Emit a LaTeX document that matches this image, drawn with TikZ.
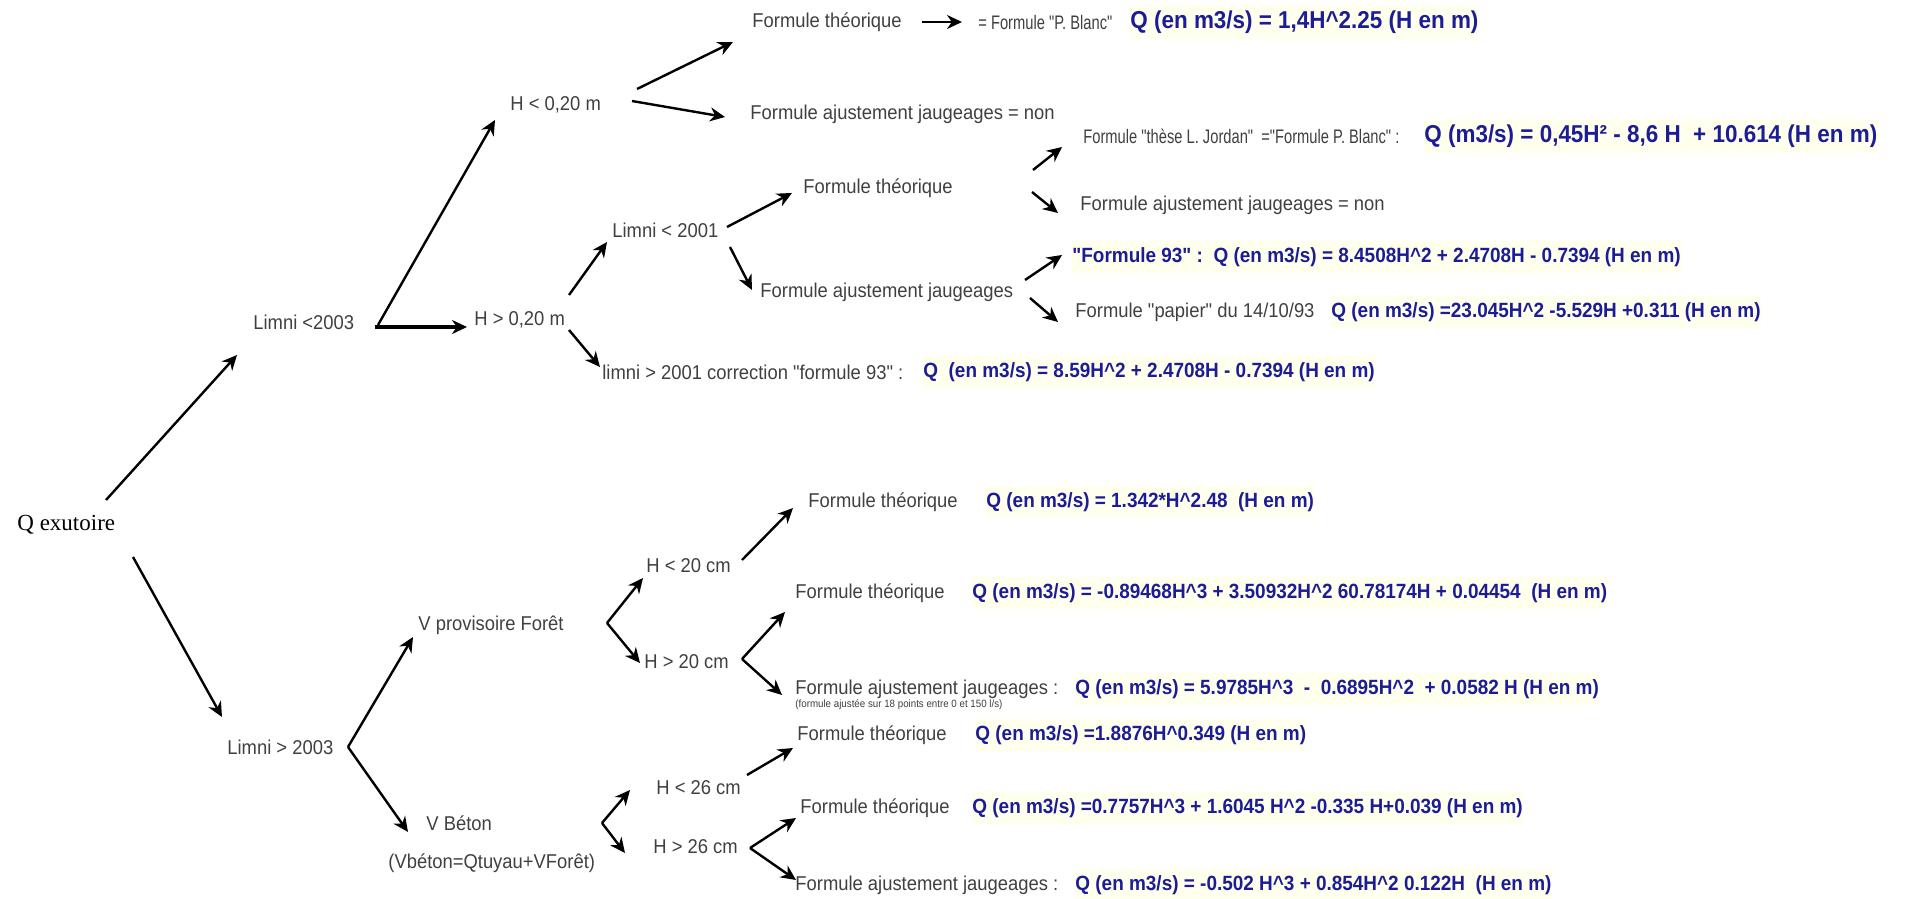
\documentclass[tikz,border=0pt]{standalone}
\usepackage{fontspec}
\usetikzlibrary{arrows.meta}
\newfontfamily\lblfont{Liberation Sans}[FakeStretch=0.92]
\newfontfamily\narrowfont{Liberation Sans}[FakeStretch=0.75]
\newfontfamily\rootfont{Liberation Serif}
\definecolor{txtgray}{RGB}{64,64,64}
\definecolor{frmblue}{RGB}{28,28,150}
\definecolor{hl}{RGB}{255,255,238}
\newcommand\pwr{\textasciicircum}
\begin{document}
\begin{tikzpicture}[x=0.5pt,y=-0.5pt,
  lbl/.style={anchor=west,inner sep=0pt,text=txtgray,font=\lblfont\fontsize{10}{12}\selectfont},
  lblnarrow/.style={lbl,font=\narrowfont\fontsize{9.8}{12}\selectfont},
  frm/.style={anchor=west,inner xsep=0pt,inner ysep=3pt,fill=hl,text=frmblue,font=\lblfont\bfseries\fontsize{10.3}{12}\selectfont},
  frmbig/.style={frm,font=\lblfont\bfseries\fontsize{12.2}{14}\selectfont},
  note/.style={lbl,font=\lblfont\fontsize{5.3}{6}\selectfont},
  root/.style={anchor=west,inner sep=0pt,font=\rootfont\fontsize{11.5}{13}\selectfont},
  arr/.style={-{Stealth[length=7.5pt,width=7pt]},line width=1.2pt},
  arrbold/.style={arr,line width=1.8pt},
]
\fill[white] (0,0) rectangle (1908,899);
\useasboundingbox (0,0) rectangle (1908,899);

% ---------- root ----------
\node[root] (qex) at (17,525) {Q exutoire};

% ---------- Limni < 2003 ----------
\node[lbl] (l2003) at (253,322) {Limni <2003};
\node[lbl] (h1) at (510,105) {H < 0,20 m};
\node[lbl] (h2) at (474,320) {H > 0,20 m};
\node[lbl] (ft1) at (752,22) {Formule théorique};
\node[lblnarrow] (pb) at (978,22) {= Formule "P. Blanc"};
\node[frmbig] (q1) at (1130,22) {Q (en m3/s) = 1,4H\pwr2.25 (H en m)};
\node[lbl] (fa1) at (750,114) {Formule ajustement jaugeages = non};
\node[lblnarrow] (fj) at (1083,136) {Formule "thèse L. Jordan"\ \ ="Formule P. Blanc" :};
\node[frmbig] (q2) at (1424,136) {Q (m3/s) = 0,45H² - 8,6 H\ \ + 10.614 (H en m)};
\node[lbl] (ft2) at (803,188) {Formule théorique};
\node[lbl] (fa2) at (1080,205) {Formule ajustement jaugeages = non};
\node[lbl] (l2001) at (612,230) {Limni < 2001};
\node[frm] (f93) at (1072,257) {"Formule 93" :\ \ Q (en m3/s) = 8.4508H\pwr2 + 2.4708H - 0.7394 (H en m)};
\node[lbl] (fa3) at (760,292) {Formule ajustement jaugeages};
\node[lbl] (pap) at (1075,312) {Formule "papier" du 14/10/93};
\node[frm] (q4) at (1331,312) {Q (en m3/s) =23.045H\pwr2 -5.529H +0.311 (H en m)};
\node[lbl] (corr) at (602,372) {limni > 2001 correction "formule 93" :};
\node[frm] (q5) at (923,372) {Q\ \ (en m3/s) = 8.59H\pwr2 + 2.4708H - 0.7394 (H en m)};

% ---------- Limni > 2003 ----------
\node[lbl] (lg2003) at (227,747) {Limni > 2003};
\node[lbl] (vp) at (418,625) {V provisoire Forêt};
\node[lbl] (vb) at (426,823) {V Béton};
\node[lbl] (vbq) at (388,863) {(Vbéton=Qtuyau+VForêt)};
\node[lbl] (h20a) at (646,566) {H < 20 cm};
\node[lbl] (h20b) at (644,662) {H > 20 cm};
\node[lbl] (ft4) at (808,502) {Formule théorique};
\node[frm] (q6) at (986,502) {Q (en m3/s) = 1.342*H\pwr2.48\ \ (H en m)};
\node[lbl] (ft5) at (795,593) {Formule théorique};
\node[frm] (q7) at (972,593) {Q (en m3/s) = -0.89468H\pwr3 + 3.50932H\pwr2 60.78174H + 0.04454\ \ (H en m)};
\node[lbl] (fa5) at (795,689) {Formule ajustement jaugeages :};
\node[frm] (q8) at (1075,689) {Q (en m3/s) = 5.9785H\pwr3\ \ -\ \ 0.6895H\pwr2\ \ + 0.0582 H (H en m)};
\node[note] (fa5n) at (795,705) {(formule ajustée sur 18 points entre 0 et 150 l/s)};
\node[lbl] (ft6) at (797,735) {Formule théorique};
\node[frm] (q9) at (975,735) {Q (en m3/s) =1.8876H\pwr0.349 (H en m)};
\node[lbl] (h26a) at (656,788) {H < 26 cm};
\node[lbl] (h26b) at (653,847) {H > 26 cm};
\node[lbl] (ft7) at (800,808) {Formule théorique};
\node[frm] (q10) at (972,808) {Q (en m3/s) =0.7757H\pwr3 + 1.6045 H\pwr2 -0.335 H+0.039 (H en m)};
\node[lbl] (fa7) at (795,885) {Formule ajustement jaugeages :};
\node[frm] (q11) at (1075,885) {Q (en m3/s) = -0.502 H\pwr3 + 0.854H\pwr2 0.122H\ \ (H en m)};

% ---------- arrow end points ----------
\coordinate (qex-up) at (106,500);   \coordinate (l2003-in) at (237,355);
\coordinate (qex-dn) at (133,557);   \coordinate (lg2003-in) at (222,717);
\coordinate (l2003-a) at (378,325);  \coordinate (h1-in) at (495,120);
\coordinate (l2003-b) at (375,327);  \coordinate (h2-in) at (467,327);
\coordinate (h1-a) at (637,89);      \coordinate (ft1-in) at (733,42);
\coordinate (h1-b) at (632,101);     \coordinate (fa1-in) at (725,117);
\coordinate (ft1-out) at (922,22);   \coordinate (pb-in) at (962,22);
\coordinate (h2-a) at (569,295);     \coordinate (l2001-in) at (607,242);
\coordinate (h2-b) at (569,330);     \coordinate (corr-in) at (600,367);
\coordinate (l2001-a) at (727,227);  \coordinate (ft2-in) at (792,193);
\coordinate (l2001-b) at (730,247);  \coordinate (fa3-in) at (752,290);
\coordinate (ft2-a) at (1033,170);   \coordinate (fj-in) at (1062,147);
\coordinate (ft2-b) at (1032,192);   \coordinate (fa2-in) at (1058,213);
\coordinate (fa3-a) at (1025,280);   \coordinate (f93-in) at (1062,255);
\coordinate (fa3-b) at (1030,298);   \coordinate (pap-in) at (1058,322);
\coordinate (lg2003-out) at (348,747);
\coordinate (vp-in) at (413,637);    \coordinate (vb-in) at (408,832);
\coordinate (vp-out) at (607,623);
\coordinate (h20a-in) at (643,578);  \coordinate (h20b-in) at (640,663);
\coordinate (h20a-out) at (742,560); \coordinate (ft4-in) at (793,508);
\coordinate (h20b-out) at (742,659);
\coordinate (ft5-in) at (785,612);   \coordinate (fa5-in) at (782,695);
\coordinate (h26a-out) at (747,775); \coordinate (ft6-in) at (793,748);
\coordinate (vb-out) at (602,823);
\coordinate (h26a-in) at (630,790);  \coordinate (h26b-in) at (625,853);
\coordinate (h26b-out) at (750,848);
\coordinate (ft7-in) at (796,818);   \coordinate (fa7-in) at (796,880);

% ---------- connectors ----------
\draw[arr] (qex-up) -- (l2003-in);
\draw[arr] (qex-dn) -- (lg2003-in);
\draw[arr] (l2003-a) -- (h1-in);
\draw[arrbold] (l2003-b) -- (h2-in);
\draw[arr] (h1-a) -- (ft1-in);
\draw[arr] (h1-b) -- (fa1-in);
\draw[arr] (ft1-out) -- (pb-in);
\draw[arr] (h2-a) -- (l2001-in);
\draw[arr] (h2-b) -- (corr-in);
\draw[arr] (l2001-a) -- (ft2-in);
\draw[arr] (l2001-b) -- (fa3-in);
\draw[arr] (ft2-a) -- (fj-in);
\draw[arr] (ft2-b) -- (fa2-in);
\draw[arr] (fa3-a) -- (f93-in);
\draw[arr] (fa3-b) -- (pap-in);
\draw[arr] (lg2003-out) -- (vp-in);
\draw[arr] (lg2003-out) -- (vb-in);
\draw[arr] (vp-out) -- (h20a-in);
\draw[arr] (vp-out) -- (h20b-in);
\draw[arr] (h20a-out) -- (ft4-in);
\draw[arr] (h20b-out) -- (ft5-in);
\draw[arr] (h20b-out) -- (fa5-in);
\draw[arr] (h26a-out) -- (ft6-in);
\draw[arr] (vb-out) -- (h26a-in);
\draw[arr] (vb-out) -- (h26b-in);
\draw[arr] (h26b-out) -- (ft7-in);
\draw[arr] (h26b-out) -- (fa7-in);
\end{tikzpicture}
\end{document}
